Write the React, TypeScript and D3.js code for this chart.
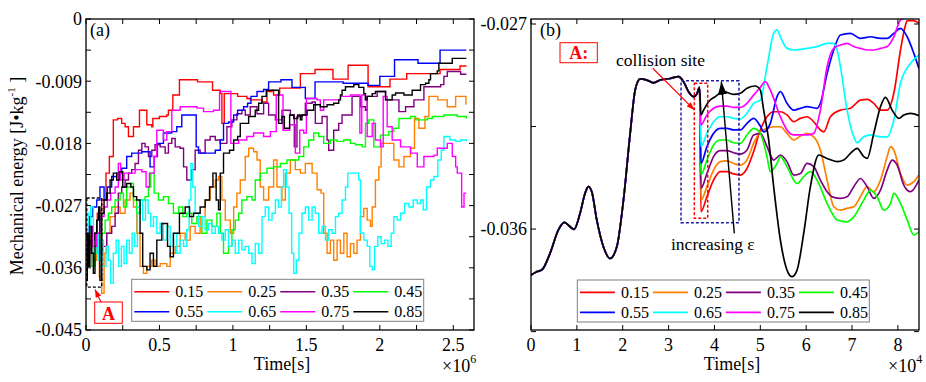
import React, { useEffect, useRef } from 'react';
import * as d3 from 'd3';

const W = 926, H = 382;
const FONT = '"Liberation Serif", "Times New Roman", serif';

// restitution coefficients (legend) and their line colours
const epsilons = ['0.15', '0.25', '0.35', '0.45', '0.55', '0.65', '0.75', '0.85'];
const lineColors = ['#ff0000', '#ff8000', '#800080', '#00ff00', '#0000ff', '#00ffff', '#ff00ff', '#000000'];

// panel (a) axes: time in 1e6 s, energy in J/kg
const aTimeTicks = [0, 0.25, 0.5, 0.75, 1, 1.25, 1.5, 1.75, 2, 2.25, 2.5];
const aTimeLabels = [0, 0.5, 1, 1.5, 2, 2.5];
const aEnergyTicks = [-0.045, -0.0405, -0.036, -0.0315, -0.027, -0.0225, -0.018, -0.0135, -0.009, -0.0045, 0];
const aEnergyLabels = [-0.045, -0.036, -0.027, -0.018, -0.009, 0];

// panel (b) axes: time in 1e4 s
const bTimeTicks = [0, 1, 2, 3, 4, 5, 6, 7, 8];
const bEnergyTicks = [-0.0405, -0.036, -0.0315, -0.027];
const bEnergyLabels = [-0.036, -0.027];

// ---- panel (a) series: [time (1e6 s), energy (1e-3 J/kg)]
const a015 = [[0,-34.4],[0.023,-32.0],[0.05,-31.0],[0.077,-28.1],[0.107,-26.2],[0.136,-22.3],[0.159,-19.9],[0.186,-14.6],[0.214,-14.4],[0.243,-15.1],[0.266,-15.6],[0.289,-17.0],[0.323,-15.6],[0.364,-13.2],[0.414,-15.3],[0.448,-15.6],[0.455,-14.4],[0.5,-14.1],[0.55,-13.9],[0.561,-13.2],[0.591,-11.0],[0.636,-8.8],[0.759,-9.1],[0.861,-10.3],[0.914,-10.8],[0.925,-15.1],[0.941,-10.8],[1.032,-11.2],[1.095,-11.5],[1.118,-11.7],[1.198,-12.0],[1.232,-10.5],[1.266,-10.3],[1.277,-11.0],[1.318,-10.0],[1.459,-7.9],[1.559,-7.3],[1.681,-8.7],[1.784,-6.7],[1.92,-9.8],[2.069,-8.7],[2.183,-7.9],[2.41,-7.3],[2.546,-6.8],[2.59,-6.8]];
const a025 = [[0,-32.9],[0.027,-31.0],[0.05,-34.9],[0.073,-32.0],[0.091,-37.3],[0.107,-39.7],[0.123,-33.9],[0.141,-31.0],[0.164,-28.6],[0.198,-27.2],[0.232,-28.1],[0.266,-26.2],[0.3,-25.2],[0.323,-27.2],[0.345,-31.0],[0.368,-35.8],[0.391,-36.8],[0.414,-35.8],[0.448,-34.9],[0.47,-35.8],[0.505,-35.4],[0.55,-35.8],[0.573,-33.9],[0.607,-32.9],[0.641,-31.0],[0.675,-32.0],[0.709,-30.0],[0.743,-31.0],[0.777,-28.6],[0.811,-26.2],[0.845,-24.3],[0.88,-23.3],[0.902,-22.8],[0.925,-26.2],[0.948,-29.1],[0.982,-31.0],[1.005,-27.2],[1.027,-25.2],[1.05,-23.3],[1.084,-19.9],[1.107,-18.7],[1.141,-19.2],[1.164,-20.4],[1.186,-24.3],[1.209,-26.2],[1.243,-24.3],[1.277,-20.4],[1.3,-24.3],[1.334,-26.2],[1.357,-22.3],[1.391,-20.4],[1.425,-21.8],[1.459,-22.3],[1.493,-20.9],[1.539,-22.3],[1.573,-24.7],[1.6,-25.2],[1.618,-31.0],[1.641,-33.9],[1.664,-32.0],[1.686,-34.9],[1.709,-32.0],[1.732,-33.9],[1.755,-31.0],[1.777,-34.4],[1.8,-32.5],[1.823,-33.9],[1.845,-32.0],[1.868,-28.6],[1.891,-27.4],[1.914,-29.1],[1.936,-30.0],[1.948,-27.2],[1.97,-23.3],[1.993,-21.4],[2.009,-18.0],[2.095,-20.4],[2.13,-21.4],[2.164,-19.9],[2.209,-18.7],[2.236,-14.4],[2.266,-15.8],[2.307,-14.1],[2.334,-11.2],[2.395,-11.7],[2.459,-12.7],[2.516,-11.2],[2.586,-12.4]];
const a035 = [[0,-33.9],[0.027,-32.0],[0.055,-31.0],[0.084,-33.9],[0.107,-32.9],[0.141,-31.0],[0.175,-30.0],[0.198,-28.1],[0.22,-25.2],[0.243,-24.3],[0.266,-23.3],[0.289,-22.3],[0.311,-21.8],[0.334,-20.9],[0.357,-19.0],[0.38,-18.0],[0.402,-18.5],[0.425,-19.9],[0.448,-19.0],[0.47,-18.2],[0.505,-18.5],[0.539,-19.4],[0.561,-18.0],[0.584,-17.3],[0.607,-18.5],[0.641,-18.7],[0.664,-21.4],[0.686,-23.3],[0.72,-21.8],[0.743,-19.0],[0.777,-19.4],[0.811,-17.5],[0.845,-17.0],[0.88,-17.5],[0.914,-18.0],[0.959,-15.6],[0.993,-14.6],[1.027,-13.7],[1.061,-13.2],[1.084,-13.9],[1.118,-12.7],[1.164,-13.7],[1.209,-12.2],[1.243,-13.9],[1.289,-14.6],[1.334,-13.2],[1.391,-13.9],[1.418,-18.5],[1.436,-14.1],[1.47,-13.9],[1.493,-12.2],[1.539,-12.0],[1.561,-15.1],[1.607,-14.1],[1.641,-17.5],[1.652,-19.0],[1.686,-16.1],[1.72,-15.1],[1.743,-13.9],[1.811,-11.2],[1.868,-12.7],[1.902,-13.2],[1.914,-11.2],[1.982,-10.5],[2.039,-11.7],[2.13,-13.4],[2.175,-12.7],[2.232,-11.7],[2.3,-9.8],[2.414,-9.5],[2.436,-8.3],[2.459,-7.6],[2.55,-8.0],[2.589,-8.0]];
const a045 = [[0,-34.9],[0.016,-32.9],[0.039,-35.8],[0.061,-33.9],[0.084,-32.0],[0.107,-31.0],[0.13,-29.1],[0.152,-28.1],[0.175,-27.2],[0.198,-26.2],[0.232,-25.2],[0.255,-27.2],[0.277,-24.3],[0.305,-23.8],[0.323,-26.2],[0.345,-28.1],[0.368,-26.2],[0.402,-25.7],[0.425,-24.3],[0.441,-22.3],[0.464,-25.2],[0.493,-26.2],[0.527,-25.7],[0.561,-26.7],[0.595,-28.1],[0.63,-27.2],[0.659,-28.6],[0.686,-28.1],[0.72,-29.6],[0.755,-28.6],[0.789,-31.0],[0.823,-29.1],[0.857,-30.0],[0.891,-28.1],[0.914,-31.0],[0.936,-33.9],[0.97,-32.9],[0.993,-30.5],[1.016,-29.1],[1.039,-28.1],[1.061,-26.2],[1.095,-25.7],[1.13,-26.2],[1.152,-23.3],[1.186,-22.3],[1.232,-21.6],[1.277,-21.4],[1.323,-20.9],[1.368,-20.4],[1.448,-19.9],[1.482,-18.5],[1.516,-17.5],[1.55,-16.5],[1.584,-17.0],[1.618,-18.0],[1.664,-17.5],[1.709,-17.7],[1.755,-17.5],[1.8,-18.0],[1.834,-18.2],[1.88,-18.5],[1.902,-15.1],[1.925,-14.6],[1.959,-18.5],[2.005,-16.8],[2.061,-16.3],[2.095,-15.8],[2.13,-14.4],[2.209,-14.1],[2.243,-14.6],[2.323,-14.4],[2.357,-14.1],[2.436,-13.9],[2.527,-14.1],[2.589,-14.4]];
const a055 = [[0,-31.0],[0.023,-28.6],[0.045,-27.2],[0.073,-26.2],[0.095,-24.3],[0.123,-26.2],[0.145,-24.3],[0.175,-22.8],[0.209,-22.3],[0.243,-21.6],[0.277,-19.9],[0.311,-19.4],[0.38,-19.2],[0.436,-21.4],[0.464,-19.9],[0.486,-18.0],[0.527,-16.5],[0.584,-16.3],[0.618,-15.6],[0.652,-13.9],[0.75,-18.5],[0.766,-19.4],[0.88,-19.0],[0.914,-17.5],[0.936,-15.1],[0.97,-14.9],[1.005,-13.9],[1.032,-13.2],[1.073,-12.7],[1.1,-12.2],[1.123,-11.2],[1.164,-10.5],[1.209,-10.2],[1.243,-9.1],[1.327,-8.8],[1.402,-9.9],[1.493,-11.5],[1.559,-9.1],[1.75,-9.3],[1.92,-9.6],[2.0,-8.3],[2.1,-5.9],[2.26,-6.4],[2.41,-4.5],[2.589,-4.5]];
const a065 = [[0,-28.1],[0.016,-31.0],[0.032,-27.2],[0.05,-33.9],[0.068,-31.0],[0.084,-34.9],[0.1,-32.0],[0.118,-35.8],[0.136,-32.9],[0.152,-34.9],[0.168,-38.2],[0.186,-33.9],[0.205,-32.0],[0.223,-35.8],[0.241,-32.9],[0.259,-35.4],[0.277,-32.0],[0.295,-33.9],[0.314,-31.0],[0.332,-32.9],[0.35,-27.2],[0.368,-26.2],[0.386,-29.1],[0.405,-26.2],[0.423,-28.1],[0.441,-30.0],[0.459,-28.6],[0.482,-31.0],[0.505,-29.6],[0.527,-32.0],[0.55,-30.0],[0.573,-32.9],[0.595,-31.0],[0.618,-33.9],[0.641,-32.0],[0.664,-32.9],[0.686,-30.5],[0.702,-26.2],[0.714,-20.9],[0.727,-24.3],[0.743,-28.1],[0.766,-30.0],[0.789,-28.6],[0.811,-30.5],[0.834,-29.6],[0.857,-31.0],[0.88,-30.0],[0.902,-31.0],[0.925,-32.0],[0.948,-30.5],[0.97,-32.9],[0.993,-32.0],[1.016,-33.9],[1.039,-32.0],[1.061,-33.4],[1.084,-32.9],[1.107,-33.9],[1.13,-35.4],[1.152,-32.5],[1.175,-33.9],[1.198,-28.6],[1.22,-27.2],[1.243,-29.1],[1.266,-28.1],[1.289,-26.2],[1.311,-27.2],[1.33,-24.3],[1.345,-21.8],[1.364,-24.3],[1.382,-28.1],[1.4,-33.9],[1.414,-36.8],[1.432,-34.9],[1.45,-31.0],[1.47,-28.1],[1.493,-27.2],[1.516,-29.1],[1.539,-27.2],[1.561,-28.1],[1.584,-31.0],[1.607,-30.0],[1.63,-32.0],[1.652,-30.5],[1.675,-31.0],[1.698,-28.6],[1.72,-28.1],[1.743,-26.2],[1.766,-24.3],[1.782,-22.3],[1.857,-23.3],[1.868,-31.0],[1.891,-32.0],[1.914,-32.9],[1.932,-35.8],[1.948,-36.3],[1.964,-32.9],[1.986,-31.5],[2.009,-32.5],[2.032,-32.0],[2.055,-32.9],[2.077,-31.0],[2.095,-28.6],[2.118,-29.1],[2.141,-28.1],[2.168,-26.7],[2.198,-27.2],[2.227,-26.2],[2.255,-26.7],[2.277,-26.2],[2.295,-27.6],[2.318,-24.3],[2.345,-23.3],[2.368,-22.8],[2.395,-20.4],[2.418,-19.0],[2.436,-17.0],[2.477,-17.5],[2.516,-17.7],[2.55,-17.5],[2.589,-17.7]];
const a075 = [[0,-32.0],[0.023,-30.0],[0.045,-32.9],[0.073,-31.0],[0.095,-28.6],[0.123,-27.2],[0.145,-26.2],[0.168,-25.2],[0.198,-24.3],[0.22,-20.9],[0.236,-23.3],[0.259,-22.3],[0.334,-21.8],[0.38,-22.1],[0.409,-24.3],[0.432,-22.3],[0.464,-19.9],[0.482,-16.1],[0.527,-17.5],[0.55,-16.3],[0.584,-13.2],[0.641,-12.7],[0.755,-12.9],[0.8,-13.4],[0.868,-13.2],[0.909,-10.5],[0.986,-18.0],[1.039,-17.5],[1.095,-17.0],[1.141,-16.5],[1.209,-17.0],[1.255,-16.3],[1.295,-11.0],[1.341,-16.1],[1.386,-15.3],[1.425,-19.4],[1.455,-16.1],[1.482,-16.5],[1.5,-11.5],[1.573,-11.7],[1.595,-13.2],[1.618,-11.7],[1.732,-11.2],[1.8,-11.0],[1.864,-16.5],[1.877,-11.0],[1.902,-11.7],[1.914,-17.0],[1.948,-15.1],[1.97,-17.5],[2.005,-18.5],[2.023,-11.2],[2.05,-15.6],[2.084,-17.5],[2.141,-18.5],[2.209,-19.4],[2.255,-21.4],[2.3,-19.9],[2.368,-19.7],[2.391,-18.7],[2.459,-18.0],[2.493,-19.9],[2.516,-21.4],[2.527,-22.3],[2.557,-27.2],[2.573,-25.2],[2.589,-25.2]];
const a085 = [[0,-37.8],[0.009,-31.0],[0.018,-35.8],[0.027,-30.0],[0.039,-33.9],[0.05,-36.8],[0.061,-31.0],[0.073,-29.1],[0.086,-27.2],[0.095,-37.8],[0.107,-28.1],[0.123,-26.2],[0.141,-25.2],[0.164,-23.3],[0.186,-22.3],[0.209,-23.3],[0.227,-22.1],[0.25,-24.3],[0.277,-23.8],[0.305,-24.3],[0.323,-25.7],[0.345,-26.2],[0.368,-31.0],[0.386,-35.8],[0.414,-36.3],[0.436,-33.9],[0.459,-35.8],[0.482,-32.0],[0.516,-29.6],[0.555,-32.9],[0.573,-34.4],[0.595,-31.0],[0.636,-28.1],[0.675,-27.2],[0.705,-28.6],[0.732,-28.1],[0.777,-27.2],[0.811,-26.2],[0.841,-24.3],[0.864,-22.3],[0.886,-26.2],[0.902,-27.6],[0.914,-22.3],[0.936,-19.4],[0.977,-19.0],[1.005,-17.5],[1.032,-17.0],[1.05,-15.1],[1.107,-14.1],[1.152,-13.2],[1.175,-12.2],[1.198,-11.2],[1.227,-10.3],[1.311,-15.1],[1.334,-14.1],[1.35,-15.8],[1.386,-13.9],[1.414,-14.4],[1.441,-13.9],[1.459,-14.6],[1.47,-13.9],[1.505,-13.2],[1.55,-12.4],[1.595,-12.7],[1.641,-12.4],[1.686,-12.2],[1.72,-11.7],[1.732,-11.0],[1.743,-10.3],[1.766,-9.8],[1.823,-9.5],[1.857,-9.9],[1.891,-10.8],[1.902,-11.7],[1.914,-11.2],[1.948,-10.8],[1.97,-10.5],[2.039,-11.7],[2.084,-11.0],[2.107,-10.7],[2.164,-11.0],[2.22,-10.3],[2.277,-9.5],[2.311,-9.3],[2.334,-8.8],[2.345,-7.9],[2.391,-7.5],[2.402,-6.4],[2.493,-5.7],[2.589,-5.7]];

// ---- panel (b) series: [time (1e4 s), energy (1e-3 J/kg)]
// all cases share the history before the collision
const bBeforeCollision = [[0,-38.02],[0.124,-37.87],[0.233,-37.80],[0.415,-37.07],[0.597,-36.04],[0.728,-35.71],[0.852,-35.90],[0.939,-36.01],[1.07,-35.31],[1.179,-34.43],[1.252,-34.14],[1.325,-34.36],[1.434,-35.60],[1.579,-36.78],[1.725,-37.29],[1.871,-36.78],[2.016,-34.73],[2.162,-31.80],[2.271,-29.90],[2.38,-29.41],[2.525,-29.46],[2.671,-29.58],[2.817,-29.46],[3.035,-29.39],[3.217,-29.31],[3.326,-29.53],[3.435,-29.97],[3.544,-30.19],[3.617,-30.07],[3.675,-29.78]];
const b015 = [[3.705,-35.24],[3.836,-34.58],[3.981,-33.85],[4.127,-33.48],[4.272,-33.48],[4.418,-33.58],[4.563,-33.63],[4.709,-33.34],[4.854,-32.60],[5.0,-31.65],[5.146,-31.07],[5.291,-30.85],[5.437,-30.85],[5.582,-30.99],[5.728,-31.29],[5.873,-31.14],[6.019,-31.07],[6.164,-31.29],[6.31,-31.65],[6.383,-31.73],[6.528,-31.07],[6.747,-30.78],[6.965,-30.70],[7.183,-30.34],[7.329,-30.31],[7.474,-30.48],[7.62,-30.78],[7.766,-30.78],[7.911,-30.04],[8.057,-28.14],[8.166,-27.04],[8.202,-26.85],[8.348,-26.85],[8.457,-26.97]];
const b025 = [[3.705,-34.73],[3.836,-34.14],[3.981,-33.41],[4.127,-33.04],[4.272,-33.01],[4.418,-33.12],[4.563,-33.19],[4.709,-32.97],[4.854,-32.24],[5.0,-31.73],[5.146,-31.58],[5.291,-31.51],[5.437,-31.51],[5.582,-31.80],[5.728,-32.09],[5.873,-31.92],[6.019,-31.80],[6.164,-31.95],[6.31,-32.53],[6.456,-33.85],[6.601,-35.02],[6.747,-35.17],[6.892,-35.09],[7.038,-35.02],[7.183,-34.58],[7.329,-34.14],[7.474,-34.36],[7.62,-33.85],[7.766,-32.82],[7.838,-32.38],[7.911,-32.53],[8.057,-33.56],[8.202,-34.07],[8.348,-33.92],[8.457,-33.63]];
const b035 = [[3.705,-34.21],[3.836,-33.56],[3.981,-32.82],[4.127,-32.56],[4.272,-32.56],[4.418,-32.65],[4.563,-32.71],[4.709,-32.53],[4.854,-31.87],[5.0,-31.80],[5.146,-32.38],[5.291,-32.97],[5.437,-32.75],[5.582,-33.04],[5.728,-33.63],[5.873,-33.56],[6.019,-33.12],[6.164,-33.26],[6.31,-33.85],[6.456,-34.36],[6.601,-34.61],[6.747,-34.65],[6.892,-34.58],[7.038,-34.14],[7.183,-33.78],[7.329,-34.14],[7.474,-34.65],[7.62,-34.29],[7.766,-33.41],[7.875,-32.97],[7.984,-33.19],[8.129,-34.07],[8.275,-34.36],[8.457,-33.85]];
const b045 = [[3.705,-33.63],[3.836,-32.97],[3.981,-32.31],[4.127,-32.09],[4.272,-32.09],[4.418,-32.21],[4.563,-32.24],[4.709,-31.87],[4.854,-31.58],[5.0,-31.80],[5.146,-32.82],[5.218,-33.48],[5.364,-33.12],[5.437,-32.82],[5.582,-33.26],[5.801,-34.00],[5.946,-33.70],[6.092,-33.48],[6.237,-33.85],[6.456,-34.87],[6.674,-35.60],[6.892,-35.68],[7.038,-35.46],[7.256,-34.73],[7.402,-34.29],[7.547,-34.58],[7.693,-35.17],[7.838,-34.87],[7.911,-34.43],[8.057,-34.87],[8.202,-35.60],[8.348,-36.26],[8.457,-36.12]];
const b055 = [[3.705,-33.12],[3.836,-32.38],[3.981,-31.80],[4.127,-31.58],[4.272,-31.58],[4.418,-31.65],[4.563,-31.65],[4.709,-31.36],[4.854,-31.14],[5.0,-31.48],[5.073,-31.73],[5.218,-31.36],[5.364,-30.19],[5.437,-29.97],[5.582,-30.48],[5.728,-30.78],[5.873,-30.70],[6.019,-30.63],[6.237,-30.70],[6.31,-30.48],[6.456,-29.17],[6.601,-28.14],[6.747,-27.48],[6.965,-27.41],[7.183,-27.63],[7.402,-27.56],[7.62,-27.63],[7.766,-27.63],[7.911,-27.41],[8.057,-27.19],[8.202,-27.56],[8.348,-28.29],[8.457,-28.95]];
const b065 = [[3.705,-32.38],[3.836,-31.80],[3.981,-31.29],[4.127,-31.07],[4.272,-31.07],[4.418,-31.14],[4.563,-31.17],[4.709,-30.92],[4.854,-30.48],[5.0,-30.34],[5.146,-28.87],[5.291,-27.41],[5.364,-27.26],[5.437,-27.56],[5.582,-28.07],[5.728,-28.14],[5.873,-28.11],[6.019,-28.07],[6.237,-27.99],[6.456,-27.85],[6.601,-27.85],[6.674,-28.14],[6.747,-28.87],[6.892,-30.78],[7.038,-31.95],[7.11,-32.21],[7.256,-31.95],[7.402,-31.87],[7.62,-31.95],[7.766,-31.95],[7.911,-31.21],[8.057,-29.60],[8.275,-28.73],[8.457,-28.36]];
const b075 = [[3.705,-31.43],[3.836,-30.99],[3.981,-30.70],[4.127,-30.60],[4.272,-30.60],[4.418,-30.66],[4.563,-30.66],[4.709,-30.48],[4.854,-30.12],[5.0,-29.78],[5.109,-29.53],[5.218,-29.90],[5.437,-31.07],[5.582,-31.65],[5.728,-31.87],[5.873,-31.87],[6.019,-31.87],[6.164,-31.80],[6.31,-30.78],[6.456,-28.87],[6.601,-28.07],[6.747,-27.92],[6.892,-27.85],[7.038,-27.99],[7.183,-28.07],[7.329,-28.14],[7.474,-28.14],[7.62,-28.07],[7.766,-27.99],[7.911,-27.56],[8.057,-26.82],[8.129,-26.75],[8.239,-26.53]];
const b085 = [[3.705,-30.99],[3.763,-30.78],[3.872,-30.41],[4.017,-30.19],[4.199,-29.97],[4.418,-30.09],[4.563,-30.04],[4.709,-29.82],[4.891,-29.72],[5.0,-29.90],[5.073,-30.78],[5.182,-32.09],[5.291,-34.14],[5.437,-36.48],[5.582,-37.80],[5.691,-38.09],[5.801,-37.80],[5.946,-36.19],[6.092,-34.14],[6.274,-32.75],[6.456,-32.90],[6.674,-33.04],[6.819,-32.97],[6.965,-32.68],[7.111,-32.46],[7.256,-32.82],[7.329,-32.90],[7.474,-31.80],[7.62,-30.63],[7.729,-30.22],[7.875,-30.78],[8.02,-31.14],[8.129,-30.99],[8.275,-30.92],[8.457,-31.02]];

const seriesA = [a015, a025, a035, a045, a055, a065, a075, a085];
const seriesB = [b015, b025, b035, b045, b055, b065, b075, b085];

function addArrowHead(defs, id, color, len, wid) {
  defs.append('marker')
    .attr('id', id)
    .attr('viewBox', `0 0 ${len} ${wid}`)
    .attr('refX', len).attr('refY', wid / 2)
    .attr('markerWidth', len).attr('markerHeight', wid)
    .attr('markerUnits', 'userSpaceOnUse')
    .attr('orient', 'auto')
    .append('path')
    .attr('d', `M0,0L${len},${wid / 2}L0,${wid}Z`)
    .attr('fill', color);
}

function drawFrame(svg, x, y, xTicks, xLabels, yTicks, yLabels) {
  const [x0, x1] = x.range();
  const [y0, y1] = y.range();
  const g = svg.append('g').attr('stroke', '#000').attr('stroke-width', 1);
  xTicks.forEach((v) => {
    g.append('line').attr('x1', x(v)).attr('x2', x(v)).attr('y1', y0).attr('y2', y0 - 5);
    g.append('line').attr('x1', x(v)).attr('x2', x(v)).attr('y1', y1).attr('y2', y1 + 5);
  });
  yTicks.forEach((v) => {
    g.append('line').attr('x1', x0).attr('x2', x0 + 5).attr('y1', y(v)).attr('y2', y(v));
    g.append('line').attr('x1', x1).attr('x2', x1 - 5).attr('y1', y(v)).attr('y2', y(v));
  });
  svg.append('rect')
    .attr('x', x0).attr('y', y1).attr('width', x1 - x0).attr('height', y0 - y1)
    .attr('fill', 'none').attr('stroke', '#000').attr('stroke-width', 1.3);

  const t = svg.append('g').attr('font-family', FONT).attr('font-size', 18).attr('fill', '#000');
  xLabels.forEach((v) => {
    t.append('text').attr('x', x(v)).attr('y', y0 + 21).attr('text-anchor', 'middle').text(String(v));
  });
  yLabels.forEach((v) => {
    t.append('text').attr('x', x0 - 4).attr('y', y(v)).attr('dy', '0.35em')
      .attr('text-anchor', 'end').text(v === 0 ? '0' : v.toFixed(3));
  });
}

function drawLegend(svg, left, top) {
  const g = svg.append('g').attr('font-family', FONT).attr('font-size', 16);
  g.append('rect').attr('x', left).attr('y', top).attr('width', 292).attr('height', 42)
    .attr('fill', '#fff').attr('stroke', '#7f7f7f').attr('stroke-width', 1);
  epsilons.forEach((lab, i) => {
    const cx = left + 2.6 + (i % 4) * 73;
    const cy = top + 12.4 + Math.floor(i / 4) * 20;
    g.append('line').attr('x1', cx).attr('x2', cx + 35).attr('y1', cy).attr('y2', cy)
      .attr('stroke', lineColors[i]).attr('stroke-width', 1.6);
    g.append('text').attr('x', cx + 41).attr('y', cy + 5.5).text(lab);
  });
}

function drawSuperLabel(svg, x, y, base, sup) {
  const t = svg.append('text').attr('x', x).attr('y', y)
    .attr('font-family', FONT).attr('font-size', 18).text(base);
  t.append('tspan').attr('dy', -9).attr('font-size', 12).text(sup);
}

export default function App() {
  const ref = useRef<SVGSVGElement | null>(null);

  useEffect(() => {
    const svg = d3.select(ref.current);
    svg.selectAll('*').remove();
    svg.append('rect').attr('width', W).attr('height', H).attr('fill', '#fff');

    const defs = svg.append('defs');
    addArrowHead(defs, 'headRed', '#ff0000', 8, 6);
    addArrowHead(defs, 'headBlack', '#000000', 13, 9);

    // ================= panel (a)
    const xa = d3.scaleLinear().domain([0, 2.641]).range([86, 474]);
    const ya = d3.scaleLinear().domain([-0.045, 0]).range([330, 19]);
    defs.append('clipPath').attr('id', 'clipA').append('rect')
      .attr('x', 86).attr('y', 19).attr('width', 388).attr('height', 311);

    const lineA = d3.line<number[]>()
      .x((d) => xa(d[0]))
      .y((d) => ya(d[1] * 1e-3))
      .curve(d3.curveStepAfter);

    const gA = svg.append('g').attr('clip-path', 'url(#clipA)');
    seriesA.forEach((s, i) => {
      gA.append('path').attr('d', lineA(s)).attr('fill', 'none')
        .attr('stroke', lineColors[i]).attr('stroke-width', 1.4);
    });

    drawFrame(svg, xa, ya, aTimeTicks, aTimeLabels, aEnergyTicks, aEnergyLabels);

    // dashed region A (early collisions)
    svg.append('rect')
      .attr('x', xa(0.005)).attr('y', ya(-0.0259))
      .attr('width', xa(0.107) - xa(0.005)).attr('height', ya(-0.0388) - ya(-0.0259))
      .attr('fill', 'none').attr('stroke', '#000').attr('stroke-width', 1.4)
      .attr('stroke-dasharray', '3,2');
    svg.append('line')
      .attr('x1', 101).attr('y1', 302).attr('x2', 95).attr('y2', 289.5)
      .attr('stroke', '#ff0000').attr('stroke-width', 1.2).attr('marker-end', 'url(#headRed)');
    svg.append('rect').attr('x', 94.7).attr('y', 302).attr('width', 27.6).attr('height', 21.3)
      .attr('fill', '#fff').attr('stroke', '#ff0000').attr('stroke-width', 1);
    svg.append('text').attr('x', 108.5).attr('y', 319.5).attr('text-anchor', 'middle')
      .attr('font-family', FONT).attr('font-size', 18).attr('font-weight', 'bold')
      .attr('fill', '#ff0000').text('A');

    drawLegend(svg, 131.7, 279.3);

    svg.append('text').attr('x', 90).attr('y', 36).attr('font-family', FONT)
      .attr('font-size', 18).text('(a)');
    svg.append('text').attr('x', 282).attr('y', 370).attr('text-anchor', 'middle')
      .attr('font-family', FONT).attr('font-size', 18).text('Time[s]');
    drawSuperLabel(svg, 442, 372, '\u00d710', '6');

    const yLab = svg.append('text')
      .attr('transform', 'translate(23,176) rotate(-90)')
      .attr('text-anchor', 'middle').attr('font-family', FONT).attr('font-size', 18)
      .text('Mechanical energy [J\u2022kg');
    yLab.append('tspan').attr('dy', -8).attr('font-size', 11).text('-1');
    yLab.append('tspan').attr('dy', 8).text(' ]');

    // ================= panel (b)
    const xb = d3.scaleLinear().domain([0, 8.46]).range([531, 919]);
    const yb = d3.scaleLinear().domain([-0.04043, -0.02678]).range([330, 19]);
    defs.append('clipPath').attr('id', 'clipB').append('rect')
      .attr('x', 531).attr('y', 19).attr('width', 388).attr('height', 311);

    const lineB = d3.line<number[]>()
      .x((d) => xb(d[0]))
      .y((d) => yb(d[1] * 1e-3))
      .curve(d3.curveMonotoneX);

    const gB = svg.append('g').attr('clip-path', 'url(#clipB)');
    seriesB.forEach((s, i) => {
      gB.append('path').attr('d', lineB(bBeforeCollision.concat(s))).attr('fill', 'none')
        .attr('stroke', lineColors[i]).attr('stroke-width', 1.7)
        .attr('stroke-linejoin', 'round');
    });

    drawFrame(svg, xb, yb, bTimeTicks, bTimeTicks, bEnergyTicks, bEnergyLabels);

    // collision window boxes
    svg.append('rect')
      .attr('x', xb(3.271)).attr('y', yb(-0.02949))
      .attr('width', xb(4.535) - xb(3.271)).attr('height', yb(-0.03572) - yb(-0.02949))
      .attr('fill', 'none').attr('stroke', '#1f1fa6').attr('stroke-width', 1.5)
      .attr('stroke-dasharray', '3,2');
    svg.append('rect')
      .attr('x', xb(3.561)).attr('y', yb(-0.0296))
      .attr('width', xb(3.853) - xb(3.561)).attr('height', yb(-0.03553) - yb(-0.0296))
      .attr('fill', 'none').attr('stroke', '#ff0000').attr('stroke-width', 1.5)
      .attr('stroke-dasharray', '3,2');

    svg.append('line')
      .attr('x1', xb(2.654)).attr('y1', yb(-0.02894))
      .attr('x2', xb(3.561)).attr('y2', yb(-0.03077))
      .attr('stroke', '#ff0000').attr('stroke-width', 1.2).attr('marker-end', 'url(#headRed)');
    svg.append('line')
      .attr('x1', xb(4.433)).attr('y1', yb(-0.03619))
      .attr('x2', xb(4.15)).attr('y2', yb(-0.02953))
      .attr('stroke', '#000').attr('stroke-width', 1.4).attr('marker-end', 'url(#headBlack)');

    drawLegend(svg, 577.3, 280);

    const ann = svg.append('g').attr('font-family', FONT).attr('font-size', 18);
    ann.append('text').attr('x', 540).attr('y', 36).text('(b)');
    ann.append('rect').attr('x', 560).attr('y', 42.7).attr('width', 37.3).attr('height', 20)
      .attr('fill', '#fff').attr('stroke', '#ff0000').attr('stroke-width', 1);
    ann.append('text').attr('x', 578.7).attr('y', 59).attr('text-anchor', 'middle')
      .attr('font-weight', 'bold').attr('fill', '#ff0000').text('A:');
    ann.append('text').attr('x', 616).attr('y', 66).attr('font-size', 17.5).text('collision site');
    ann.append('text').attr('x', 671).attr('y', 250).attr('font-size', 17.5).text('increasing \u03b5');
    ann.append('text').attr('x', 732).attr('y', 370).attr('text-anchor', 'middle').text('Time[s]');
    drawSuperLabel(svg, 888, 372, '\u00d710', '4');
  }, []);

  return (
    <svg
      ref={ref}
      width={W}
      height={H}
      style={{ position: 'absolute', left: 0, top: 0, display: 'block' }}
    />
  );
}
